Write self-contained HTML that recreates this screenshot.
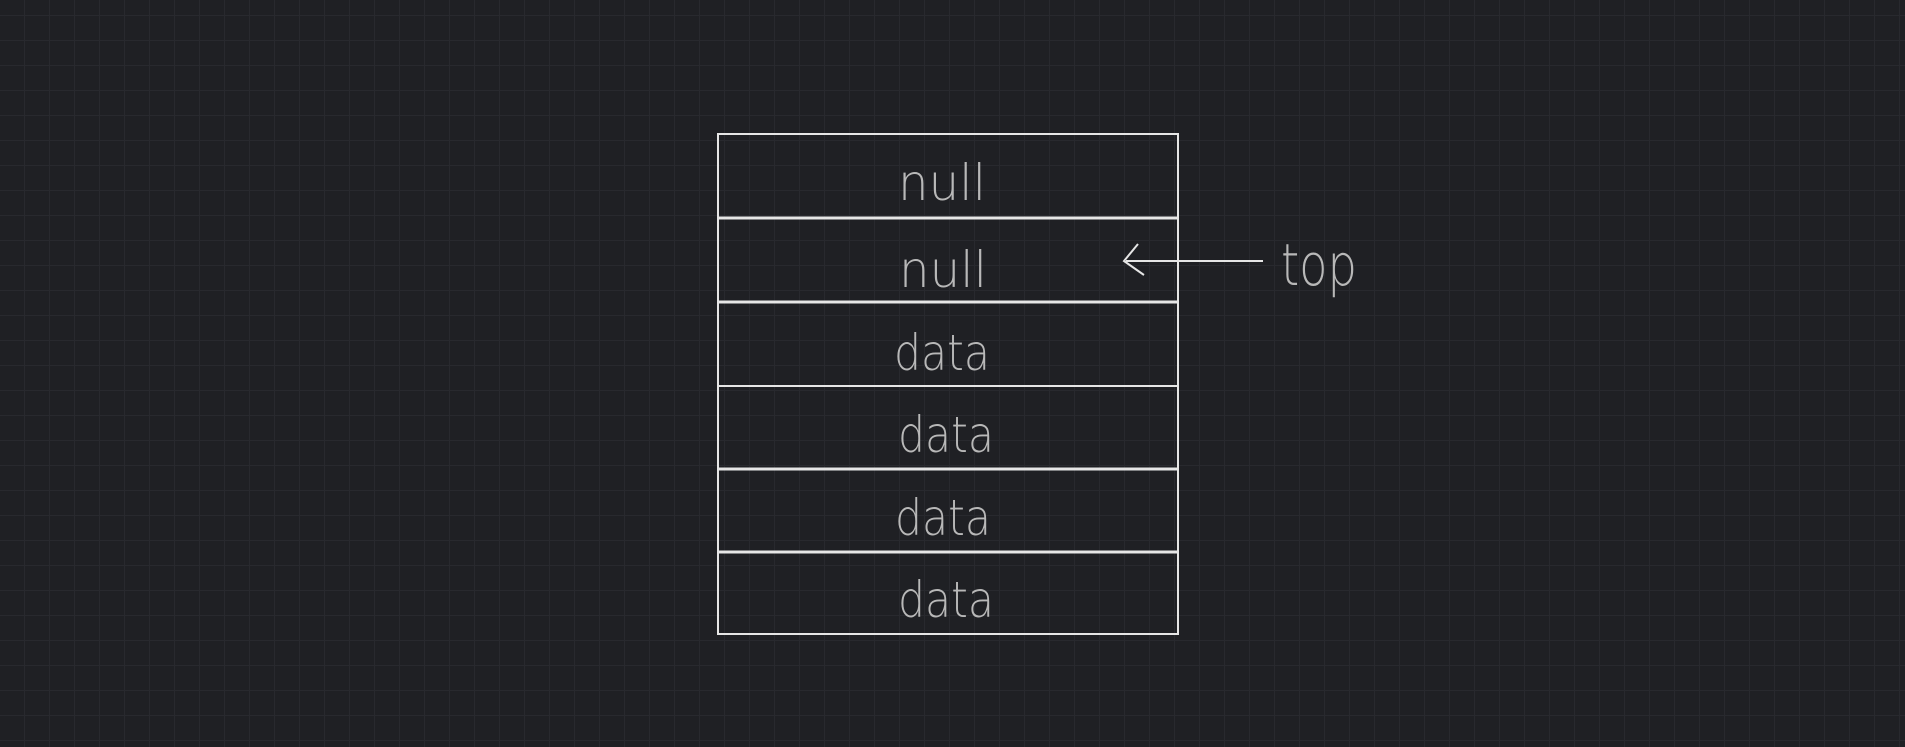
<!DOCTYPE html>
<html><head><meta charset="utf-8"><style>
html,body{margin:0;padding:0;}
body{width:1905px;height:747px;overflow:hidden;background-color:#1f2024;
background-image:linear-gradient(to right,#28292e 1px,transparent 1px),linear-gradient(to bottom,#28292e 1px,transparent 1px);
background-size:25px 25px;background-position:24px 15px;}
svg{position:absolute;left:0;top:0;}
text{font-family:"DejaVu Sans","Liberation Sans",sans-serif;font-weight:200;fill:#b8b8b8;font-size:50px;text-anchor:middle;}
</style></head><body>
<svg width="1905" height="747">
<g stroke="#e6e6e6" stroke-width="2" fill="none">
<rect x="718" y="134" width="460" height="500"/>
<line x1="718" y1="218" x2="1178" y2="218" stroke-width="3"/>
<line x1="718" y1="302" x2="1178" y2="302" stroke-width="3"/>
<line x1="718" y1="386" x2="1178" y2="386"/>
<line x1="718" y1="469" x2="1178" y2="469" stroke-width="3"/>
<line x1="718" y1="552" x2="1178" y2="552" stroke-width="3"/>
<line x1="1126" y1="261" x2="1263" y2="261"/>
<polyline points="1138,244 1124,261 1144,275"/>
</g>
<text x="942" y="200" textLength="88" lengthAdjust="spacingAndGlyphs">null</text>
<text x="943" y="287" textLength="88" lengthAdjust="spacingAndGlyphs">null</text>
<text x="942" y="370" textLength="96" lengthAdjust="spacingAndGlyphs">data</text>
<text x="946" y="452" textLength="96" lengthAdjust="spacingAndGlyphs">data</text>
<text x="943" y="535" textLength="96" lengthAdjust="spacingAndGlyphs">data</text>
<text x="946" y="617" textLength="96" lengthAdjust="spacingAndGlyphs">data</text>
<text x="1319" y="285" textLength="76" lengthAdjust="spacingAndGlyphs" style="font-size:58px">top</text>
</svg>
</body></html>
